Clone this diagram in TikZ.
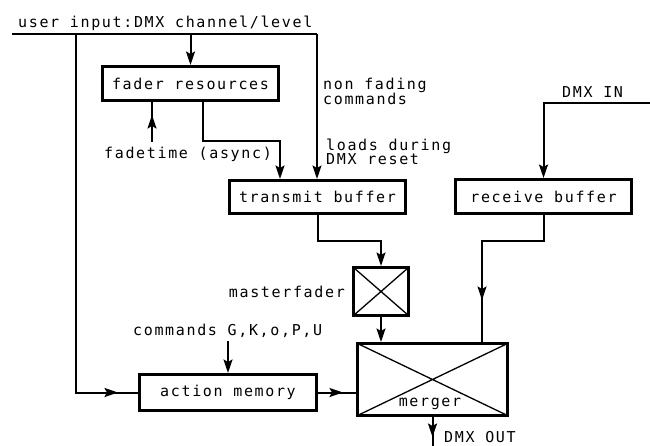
\documentclass[tikz,border=0pt]{standalone}
\usepackage{fontspec}
\newfontfamily\plotfont[LetterSpace=11]{DejaVu Sans Mono}
\usetikzlibrary{arrows.meta,calc}

\begin{document}
\begin{tikzpicture}[x=1pt,y=-1pt,
  font=\plotfont\fontsize{15pt}{15pt}\selectfont,
  block/.style={draw, line width=3pt, inner sep=0pt},
  crossbox/.style={path picture={
    \draw[line width=1.3pt]
      (path picture bounding box.north west) -- (path picture bounding box.south east)
      (path picture bounding box.south west) -- (path picture bounding box.north east);}},
  wire/.style={line width=2pt},
  endarrow/.style={-{Stealth[length=13.5pt,width=9pt,inset=2.5pt]}},
  lbl/.style={inner sep=0pt}]
\useasboundingbox (0,0) rectangle (650,446);

% blocks
\node[block, minimum width=176pt, minimum height=34pt] (fader) at (190.5,83.5) {fader resources};
\node[block, minimum width=176pt, minimum height=33pt] (transmit) at (317.5,197) {transmit buffer};
\node[block, minimum width=176pt, minimum height=34pt] (receive) at (543.5,196.5) {receive buffer};
\node[block, crossbox, minimum width=55pt, minimum height=48pt] (master) at (381,291.5) {};
\node[block, crossbox, minimum width=150pt, minimum height=72pt] (merger) at (432.5,379.5) {};
\node[block, minimum width=177pt, minimum height=36pt] (action) at (228,392.5) {action memory};

% labels
\node[lbl, anchor=base west] (uitext) at (18,28) {user input:DMX channel/level};
\node[lbl, anchor=base west] (nf1) at (323,90) {non fading};
\node[lbl, anchor=base west] (nf2) at (323,105) {commands};
\node[lbl, anchor=base west] (ld1) at (326,151) {loads during};
\node[lbl, anchor=base west] (ld2) at (326,165) {DMX reset};
\node[lbl, anchor=base west] (fadetime) at (104,159) {fadetime (async)};
\node[lbl, anchor=base east] (mflbl) at (345,297) {masterfader};
\node[lbl, anchor=base west] (cmdlbl) at (133,335) {commands G,K,o,P,U};
\node[lbl, anchor=base] (mergerlbl) at (430,406) {merger};
\node[lbl, anchor=base west] (outlbl) at (444,442) {DMX OUT};
\node[lbl, anchor=base west] (inlbl) at (562,98) {DMX IN};

% connector end points and bends
\coordinate (uin) at (12,34);
\coordinate (usplit) at (76,34);
\coordinate (ucorner) at (317,34);
\coordinate (ftend) at (152,142);
\coordinate (as1) at (203,141);
\coordinate (as2) at (280,141);
\coordinate (bus) at (0,241);
\coordinate (rx) at (482,0);
\coordinate (din) at (650,103);
\coordinate (cmd) at (228,341);
\coordinate (dout) at (432.5,446);

% user input bus
\draw[wire] (uin) -- (ucorner);
\draw[wire, endarrow] (ucorner) -- (ucorner |- transmit.north);
\draw[wire] (usplit) -- (usplit |- action.west) -- (action.west);
\draw[wire, endarrow] (usplit |- action.west) -- ($(action.west)+(-20,0)$);
\draw[wire, endarrow] (fader.north |- uin) -- (fader.north);

% fader resources
\draw[wire] (ftend) -- (ftend |- fader.south);
\draw[wire, endarrow] (ftend) -- ($(ftend |- fader.south)+(0,13)$);
\draw[wire, endarrow] (as1 |- fader.south) -- (as1) -- (as2) -- (as2 |- transmit.north);

% transmit path
\draw[wire, endarrow] (transmit.south) -- (transmit.south |- bus) -| (master.north);
\draw[wire, endarrow] (master.south) -- (master.south |- merger.north);

% receive path
\draw[wire, endarrow] (din) -| (receive.north);
\draw[wire] (receive.south) -- (receive.south |- bus) -- (rx |- bus) -- (rx |- merger.north);
\draw[wire, endarrow] (rx |- bus) -- ($(rx |- merger.north)+(0,-42)$);

% action memory
\draw[wire, endarrow] (cmd) -- (action.north);
\draw[wire] (action.east) -- (merger.west |- action.east);
\draw[wire, endarrow] (action.east) -- ($(merger.west |- action.east)+(-13,0)$);

% output
\draw[wire] (merger.south) -- (dout);
\draw[wire, endarrow] (merger.south) -- ($(merger.south)+(0,20)$);
\end{tikzpicture}
\end{document}
